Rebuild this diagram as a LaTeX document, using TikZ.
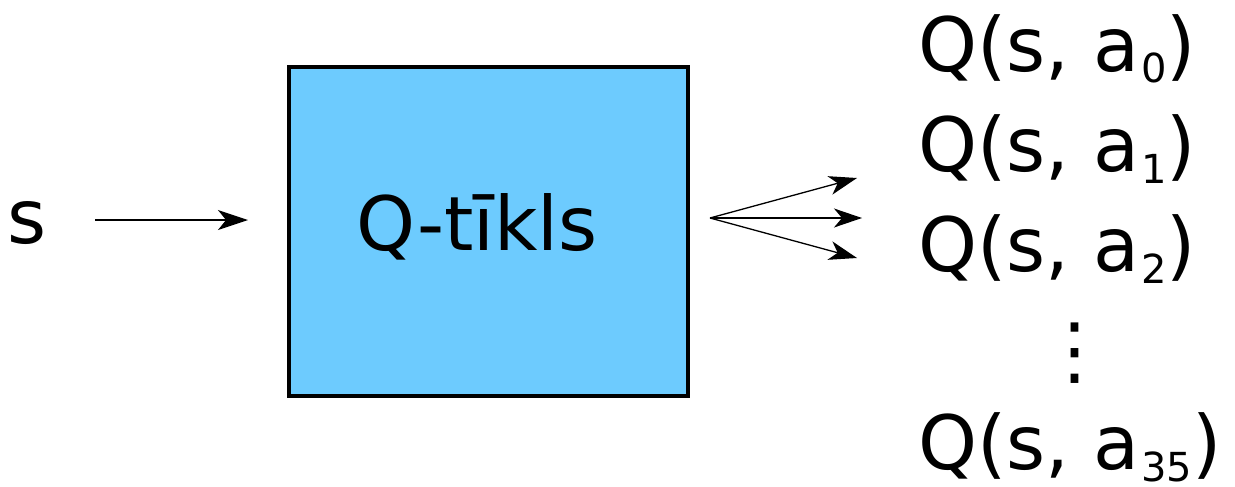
\documentclass[tikz,border=0pt]{standalone}
\usepackage{fontspec}
\setmainfont{DejaVu Sans}
\usetikzlibrary{arrows.meta}
\definecolor{qblue}{RGB}{109,203,254}
\newcommand\bigtxt{\fontsize{75}{90}\selectfont}
\newcommand\subsc[1]{\kern2pt\raisebox{-12pt}{\fontsize{40}{46}\selectfont #1}}
\tikzset{
  lbl/.style={inner sep=0pt, anchor=base west, font=\bigtxt},
  arr/.style={line width=1.3pt, -{Stealth[length=30pt, width=20pt, inset=8pt]}},
  outarr/.style={line width=1.3pt, -{Stealth[length=28pt, width=19pt, inset=8pt]}},
  netbox/.style={draw, line width=4pt, fill=qblue, minimum width=399pt, minimum height=329pt, inner sep=0pt}
}
\begin{document}
\begin{tikzpicture}[x=1pt, y=-1pt]
\useasboundingbox (0,0) rectangle (1235,487);
\node[netbox] (net) at (488.5,231.5) {};
\node[inner sep=0pt, anchor=base, font=\bigtxt] (netlabel) at (477,250) {Q-tīkls};
\node[lbl] (s) at (7.5,243) {s};
\draw[arr, shorten <=48.5pt, shorten >=39pt] ([yshift=2.5pt]s.east) -- ([yshift=2.5pt]s.east -| net.west);
\coordinate (fan) at (710,218);
\coordinate (o0) at (857,178);
\coordinate (o1) at (862,218);
\coordinate (o2) at (857,258);
\draw[outarr] (fan) -- (o0);
\draw[outarr] (fan) -- (o1);
\draw[outarr] (fan) -- (o2);
\node[lbl] (q0) at (918,71) {Q(s, a\subsc{0})};
\node[lbl] (q1) at (918,171) {Q(s, a\subsc{1})};
\node[lbl] (q2) at (918,271) {Q(s, a\subsc{2})};
\node[inner sep=0pt, font=\bigtxt] (dots) at (1075,353) {⋮};
\node[lbl] (q35) at (918,469) {Q(s, a\subsc{35})};
\end{tikzpicture}
\end{document}
